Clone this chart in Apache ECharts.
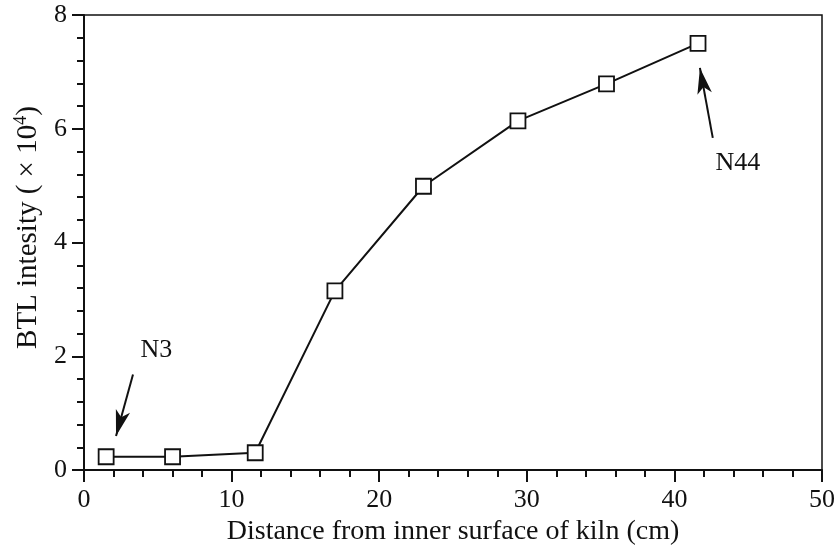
<!DOCTYPE html>
<html>
<head>
<meta charset="utf-8">
<script src="https://cdn.jsdelivr.net/npm/echarts@6/dist/echarts.min.js"></script>
<style>
  html, body { margin: 0; padding: 0; background: #fff; }
  #chart { width: 838px; height: 551px; }
</style>
</head>
<body>
<div id="chart"></div>
<script>
// distance from inner kiln surface (cm) vs BTL intensity (x10^4)
var distance = [1.5, 6.0, 11.6, 17.0, 23.0, 29.4, 35.4, 41.6];
var intensity = [0.235, 0.235, 0.305, 3.15, 4.99, 6.14, 6.79, 7.50];

// annotation arrows, [tail, tip] in data units
var arrowN3 = [[3.32, 1.68], [2.17, 0.60]];
var arrowN44 = [[42.6, 5.84], [41.73, 7.07]];
var labelN3 = [4.9, 2.1];
var labelN44 = [44.3, 5.4];

var FONT = '"Liberation Serif", "DejaVu Serif", serif';

(function() {
    var chart = echarts.init(document.getElementById('chart'), null, { renderer: 'canvas' });

    var pairs = distance.map(function(d, i) { return [d, intensity[i]]; });

    function axisCommon() {
        return {
            type: 'value',
            axisLine: { show: true, lineStyle: { color: '#111', width: 2 } },
            axisTick: { show: true, inside: false, length: 12, lineStyle: { color: '#111', width: 2 } },
            minorTick: { show: true, splitNumber: 5, length: 7, lineStyle: { color: '#111', width: 2 } },
            splitLine: { show: false },
            axisLabel: { color: '#111', fontFamily: FONT, fontSize: 26 },
            nameTextStyle: { color: '#111', fontFamily: FONT, fontSize: 28 }
        };
    }

    var xAxis = axisCommon();
    xAxis.min = 0; xAxis.max = 50; xAxis.interval = 10;
    xAxis.axisLabel.margin = 17;
    xAxis.name = 'Distance from inner surface of kiln (cm)';
    xAxis.nameLocation = 'middle';
    xAxis.nameGap = 46;

    var yAxis = axisCommon();
    yAxis.min = 0; yAxis.max = 8; yAxis.interval = 2;
    yAxis.axisLabel.margin = 17;
    yAxis.name = '{n|BTL intesity ( \u00d7 10}{s|4}{n|)}';
    yAxis.nameLocation = 'middle';
    yAxis.nameGap = 38;
    yAxis.nameTextStyle.padding = [0, 0, 0, 30];
    yAxis.nameTextStyle.rich = {
        n: { fontFamily: FONT, fontSize: 29, color: '#111' },
        s: { fontFamily: FONT, fontSize: 18, color: '#111', verticalAlign: 'top', padding: [0, 0, 15, 0] }
    };

    function arrowLine(seg) {
        return [
            { coord: seg[0], symbol: 'none' },
            { coord: seg[1], symbol: 'arrow' }
        ];
    }

    var option = {
        animation: false,
        backgroundColor: '#fff',
        grid: {
            left: 84, right: 16, top: 15, bottom: 80,
            show: true, borderColor: '#111', borderWidth: 1.5, backgroundColor: 'transparent'
        },
        xAxis: xAxis,
        yAxis: yAxis,
        series: [{
            type: 'line',
            data: pairs,
            symbol: 'rect',
            symbolSize: 15,
            showAllSymbol: true,
            lineStyle: { color: '#111', width: 2 },
            itemStyle: { color: '#fff', borderColor: '#111', borderWidth: 1.8 },
            z: 3,
            markLine: {
                silent: true,
                symbolSize: [11, 26],
                lineStyle: { color: '#111', width: 2, type: 'solid' },
                label: { show: false },
                data: [arrowLine(arrowN3), arrowLine(arrowN44)]
            },
            markPoint: {
                silent: true,
                symbol: 'circle',
                symbolSize: 0,
                label: { show: true, color: '#111', fontFamily: FONT, fontSize: 26, formatter: '{b}' },
                data: [
                    { name: 'N3', coord: labelN3 },
                    { name: 'N44', coord: labelN44 }
                ]
            }
        }]
    };

    chart.setOption(option);
})();
</script>
</body>
</html>
